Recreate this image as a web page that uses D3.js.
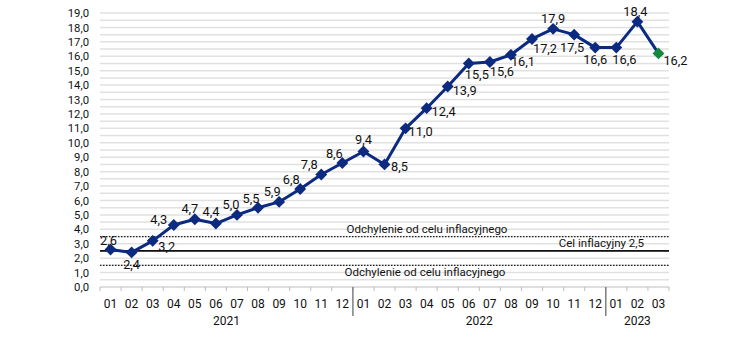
<!DOCTYPE html>
<html>
<head>
<meta charset="utf-8">
<script src="https://cdn.jsdelivr.net/npm/d3@7"></script>
<style>
  html, body { margin: 0; padding: 0; background: #fff; }
  svg text { font-family: Roboto, "Noto Sans", sans-serif; fill: #111; }
</style>
</head>
<body>
<svg id="chart" width="750" height="339"></svg>
<script>
// CPI inflation y/y, monthly 2021-01 .. 2023-03
const months = ["01","02","03","04","05","06","07","08","09","10","11","12",
                "01","02","03","04","05","06","07","08","09","10","11","12",
                "01","02","03"];
const years = [
  { label: "2021", start: 0, count: 12 },
  { label: "2022", start: 12, count: 12 },
  { label: "2023", start: 24, count: 3 }
];
const values = [2.6, 2.4, 3.2, 4.3, 4.7, 4.4, 5.0, 5.5, 5.9, 6.8, 7.8, 8.6,
                9.4, 8.5, 11.0, 12.4, 13.9, 15.5, 15.6, 16.1, 17.2, 17.9, 17.5, 16.6,
                16.6, 18.4, 16.2];
const yTicks = d3.range(0, 19.01, 1);
const target = 2.5, band = [1.5, 3.5];

// value-label nudges from the marker centre: [dx, dy]
const labelNudge = [
  [-2, -5], [0, 17], [14, 10], [-15, -1], [-5, -6], [-5, -8], [-6, -6], [-7, -5],
  [-7, -6], [-9, -5], [-12, -6], [-8, -5],
  [0, -7], [15, 7], [15, 8], [17, 8], [17, 8], [8, 16], [12, 14], [12, 11],
  [13, 14], [0, -6], [-2, 17], [0, 16],
  [8, 16], [-2, -6], [17, 12]
];

const svg = d3.select("#chart");
const m = { left: 100, right: 81, top: 13, bottom: 52 };
const W = 750, H = 339;
const plotR = W - m.right, plotB = H - m.bottom;

const x = d3.scaleBand().domain(d3.range(months.length)).range([m.left, plotR]).padding(0);
const y = d3.scaleLinear().domain([0, 19]).range([plotB, m.top]);
const fmt = d => d3.format(".1f")(d).replace(".", ",");

// gridlines every 0.5
svg.append("g").selectAll("line")
  .data(d3.range(0.5, 19.01, 0.5))
  .join("line")
  .attr("x1", m.left).attr("x2", plotR)
  .attr("y1", d => y(d)).attr("y2", d => y(d))
  .attr("stroke", "#e1e1e1").attr("stroke-width", 1.5);

// y axis labels
const yAxis = d3.axisLeft(y).tickValues(yTicks).tickSize(0).tickPadding(0).tickFormat(fmt);
const ya = svg.append("g").attr("transform", `translate(${m.left - 11},0)`).call(yAxis);
ya.select(".domain").remove();
ya.selectAll("text").attr("font-size", 11.3).attr("fill", "#111")
  .style("font-family", 'Roboto, sans-serif');

// tolerance band and target
band.forEach(v => {
  svg.append("line")
    .attr("x1", m.left).attr("x2", plotR)
    .attr("y1", y(v)).attr("y2", y(v))
    .attr("stroke", "#222").attr("stroke-width", 1.3)
    .attr("stroke-dasharray", "1.5,1.5");
});
svg.append("line")
  .attr("x1", m.left).attr("x2", plotR)
  .attr("y1", y(target)).attr("y2", y(target))
  .attr("stroke", "#111").attr("stroke-width", 1.8);

svg.append("text").attr("x", 427).attr("y", y(band[1]) - 4)
  .attr("text-anchor", "middle").attr("font-size", 11.5)
  .text("Odchylenie od celu inflacyjnego");
svg.append("text").attr("x", 425).attr("y", y(band[0]) + 11)
  .attr("text-anchor", "middle").attr("font-size", 11.5)
  .text("Odchylenie od celu inflacyjnego");
svg.append("text").attr("x", 644).attr("y", y(target) - 4)
  .attr("text-anchor", "end").attr("font-size", 11.5)
  .text("Cel inflacyjny 2,5");

// x axis
svg.append("line").attr("x1", m.left).attr("x2", plotR)
  .attr("y1", plotB).attr("y2", plotB)
  .attr("stroke", "#bdbdbd").attr("stroke-width", 1);
svg.append("g").selectAll("line")
  .data(d3.range(months.length + 1))
  .join("line")
  .attr("x1", i => m.left + i * x.bandwidth()).attr("x2", i => m.left + i * x.bandwidth())
  .attr("y1", plotB).attr("y2", plotB + 4)
  .attr("stroke", "#bdbdbd").attr("stroke-width", 1);
svg.append("g").selectAll("line")
  .data(years.slice(1))
  .join("line")
  .attr("x1", d => x(d.start)).attr("x2", d => x(d.start))
  .attr("y1", plotB).attr("y2", plotB + 29)
  .attr("stroke", "#7f7f7f").attr("stroke-width", 1.5);
svg.append("g").selectAll("text")
  .data(months)
  .join("text")
  .attr("x", (d, i) => x(i) + x.bandwidth() / 2)
  .attr("y", plotB + 21)
  .attr("text-anchor", "middle").attr("font-size", 12)
  .text(d => d);
svg.append("g").selectAll("text")
  .data(years)
  .join("text")
  .attr("x", d => x(d.start) + d.count * x.bandwidth() / 2)
  .attr("y", plotB + 38)
  .attr("text-anchor", "middle").attr("font-size", 12)
  .text(d => d.label);

// series line
const cx = i => x(i) + x.bandwidth() / 2;
const line = d3.line().x((d, i) => cx(i)).y(d => y(d));
svg.append("path").datum(values)
  .attr("d", line).attr("fill", "none")
  .attr("stroke", "#0c2a7f").attr("stroke-width", 3)
  .attr("stroke-linejoin", "round");

// diamond markers, latest reading in green
const diamond = d3.symbol().type(d3.symbolDiamond2).size(90);
svg.append("g").selectAll("path")
  .data(values)
  .join("path")
  .attr("d", diamond)
  .attr("transform", (d, i) => `translate(${cx(i)},${y(d)})`)
  .attr("fill", (d, i) => i === values.length - 1 ? "#13893f" : "#0c2a7f");

// value labels
svg.append("g").selectAll("text")
  .data(values)
  .join("text")
  .attr("x", (d, i) => cx(i) + labelNudge[i][0])
  .attr("y", (d, i) => y(d) + labelNudge[i][1])
  .attr("text-anchor", "middle")
  .attr("font-size", 12.8)
  .text(fmt);
</script>
</body>
</html>
